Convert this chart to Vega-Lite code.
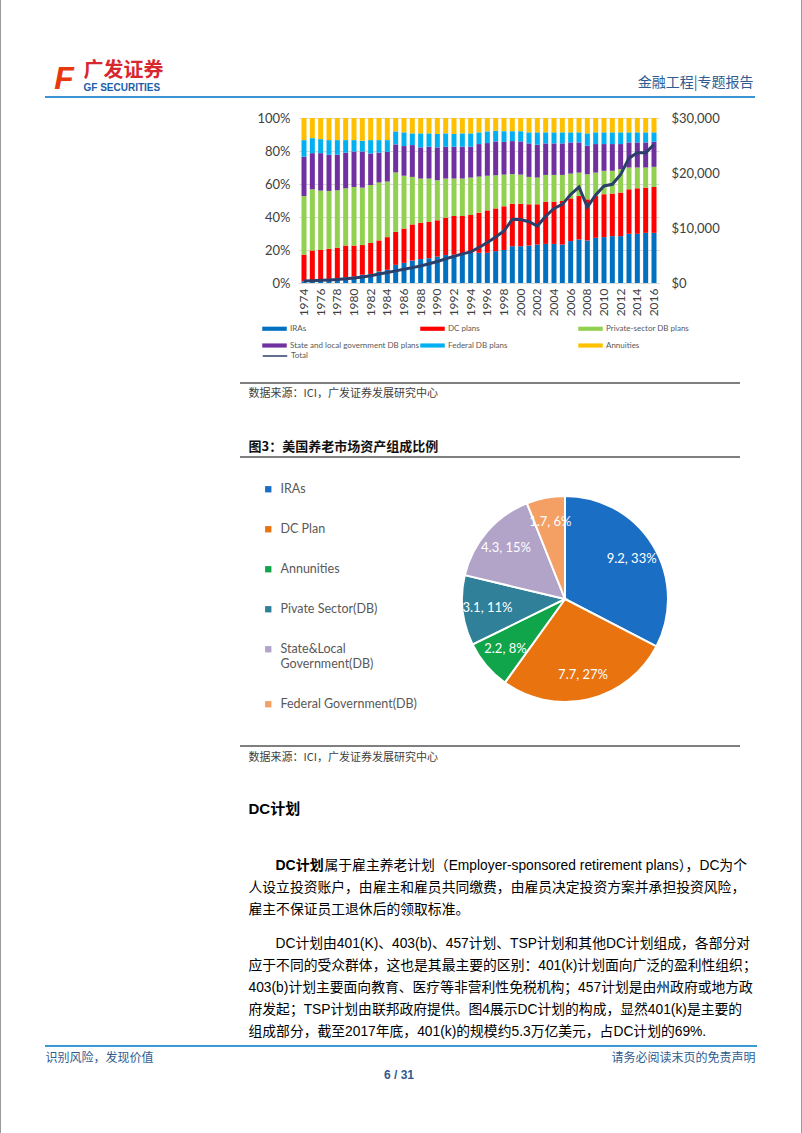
{
  "$schema": "https://vega.github.io/schema/vega-lite/v6.json",
  "padding": 0,
  "background": "white",
  "spacing": 0,
  "config": {"view": {"stroke": null}, "concat": {"spacing": 0}},
  "resolve": {"scale": {"color": "independent", "stroke": "independent"}, "legend": {"color": "independent", "stroke": "independent"}},
  "hconcat": [
    {"width": 1, "height": 1133, "data": {"values": []}, "mark": "point", "view": {"fill": "#9a9a9a"}},
    {"vconcat": [
      {"width": 800, "height": 60, "data": {"values": []}, "mark": "point"},
      {"hconcat": [
        {"width": 44, "height": 34, "data": {"values": []}, "mark": "point"},
        {"width": 38, "height": 34, "data": {"values": [{"t": "F"}]},
         "mark": {"type": "text", "align": "center", "baseline": "middle", "font": "Liberation Sans", "fontSize": 32, "fontWeight": "bold", "fontStyle": "italic", "color": "#e8380d"},
         "encoding": {"text": {"field": "t"}}},
        {"width": 1, "height": 34, "layer": [
          {"data": {"values": [{"line": 1, "t": "广发证券"}]},
           "mark": {"type": "text", "align": "left", "baseline": "middle", "font": "Noto Sans CJK SC", "fontSize": 20, "fontWeight": "bold", "color": "#d7282f"},
           "encoding": {"y": {"field": "line", "type": "ordinal", "axis": null, "scale": {"domain": [1, 2], "padding": 0.5}}, "text": {"field": "t"}}},
          {"data": {"values": [{"line": 2, "t": "GF SECURITIES"}]},
           "mark": {"type": "text", "align": "left", "baseline": "middle", "font": "Liberation Sans", "fontSize": 10, "fontWeight": "bold", "color": "#1d5fab"},
           "encoding": {"y": {"field": "line", "type": "ordinal", "axis": null, "scale": {"domain": [1, 2], "padding": 0.5}}, "text": {"field": "t"}}}
        ]},
        {"width": 669, "height": 34, "data": {"values": []}, "mark": "point"},
        {"width": 1, "height": 34, "data": {"values": [{"t": "金融工程|专题报告"}]},
         "mark": {"type": "text", "align": "right", "baseline": "middle", "dy": 4, "font": "Noto Sans CJK SC", "fontSize": 14, "color": "#2f5b8f"},
         "encoding": {"text": {"field": "t"}}}
      ], "bounds": "flush", "spacing": 0},
      {"hconcat": [
        {"width": 44, "height": 16, "data": {"values": []}, "mark": "point"},
        {"width": 710, "height": 2, "data": {"values": []}, "mark": "point", "view": {"fill": "#3a93d3"}}
      ], "bounds": "flush", "spacing": 0},
      {"hconcat": [
        {"width": 298, "height": 264, "data": {"values": []}, "mark": "point"},
        {"width": 360, "height": 165,
         "data": {"values": [
          {"year": 1974, "IRAs": 1, "DC plans": 16.2, "Private-sector DB plans": 35.5, "State and local government DB plans": 23.8, "Federal DB plans": 10.1, "Annuities": 13.4, "total": 370},
          {"year": 1975, "IRAs": 1.5, "DC plans": 18.2, "Private-sector DB plans": 37.1, "State and local government DB plans": 21.9, "Federal DB plans": 9.1, "Annuities": 12.2, "total": 420},
          {"year": 1976, "IRAs": 2, "DC plans": 18, "Private-sector DB plans": 36, "State and local government DB plans": 22.7, "Federal DB plans": 8.5, "Annuities": 12.8, "total": 480},
          {"year": 1977, "IRAs": 2.5, "DC plans": 18.2, "Private-sector DB plans": 35.1, "State and local government DB plans": 21.9, "Federal DB plans": 8.9, "Annuities": 13.4, "total": 540},
          {"year": 1978, "IRAs": 3, "DC plans": 18.3, "Private-sector DB plans": 34.9, "State and local government DB plans": 21.5, "Federal DB plans": 8.9, "Annuities": 13.4, "total": 620},
          {"year": 1979, "IRAs": 3.5, "DC plans": 19.2, "Private-sector DB plans": 34.7, "State and local government DB plans": 21.6, "Federal DB plans": 7.6, "Annuities": 13.4, "total": 760},
          {"year": 1980, "IRAs": 4, "DC plans": 18.7, "Private-sector DB plans": 35.5, "State and local government DB plans": 21.5, "Federal DB plans": 6.9, "Annuities": 13.4, "total": 930},
          {"year": 1981, "IRAs": 5, "DC plans": 18, "Private-sector DB plans": 34.8, "State and local government DB plans": 21.9, "Federal DB plans": 6.5, "Annuities": 13.8, "total": 1080},
          {"year": 1982, "IRAs": 5.5, "DC plans": 18.8, "Private-sector DB plans": 35.1, "State and local government DB plans": 19.1, "Federal DB plans": 8.1, "Annuities": 13.4, "total": 1330},
          {"year": 1983, "IRAs": 7, "DC plans": 18.8, "Private-sector DB plans": 35.1, "State and local government DB plans": 18.1, "Federal DB plans": 7.6, "Annuities": 13.4, "total": 1620},
          {"year": 1984, "IRAs": 8, "DC plans": 19.8, "Private-sector DB plans": 33.7, "State and local government DB plans": 18, "Federal DB plans": 7.1, "Annuities": 13.4, "total": 1900},
          {"year": 1985, "IRAs": 11, "DC plans": 20, "Private-sector DB plans": 36, "State and local government DB plans": 17, "Federal DB plans": 7.9, "Annuities": 8.1, "total": 2200},
          {"year": 1986, "IRAs": 12.2, "DC plans": 20.8, "Private-sector DB plans": 32, "State and local government DB plans": 18, "Federal DB plans": 8.3, "Annuities": 8.7, "total": 2500},
          {"year": 1987, "IRAs": 13.6, "DC plans": 21.9, "Private-sector DB plans": 28.8, "State and local government DB plans": 19.3, "Federal DB plans": 7.1, "Annuities": 9.3, "total": 2800},
          {"year": 1988, "IRAs": 14.5, "DC plans": 22, "Private-sector DB plans": 26.8, "State and local government DB plans": 18.9, "Federal DB plans": 8.5, "Annuities": 9.3, "total": 3100},
          {"year": 1989, "IRAs": 15, "DC plans": 22, "Private-sector DB plans": 26.3, "State and local government DB plans": 19.3, "Federal DB plans": 8.1, "Annuities": 9.3, "total": 3500},
          {"year": 1990, "IRAs": 16, "DC plans": 22, "Private-sector DB plans": 24.3, "State and local government DB plans": 19.9, "Federal DB plans": 8.1, "Annuities": 9.7, "total": 3900},
          {"year": 1991, "IRAs": 17, "DC plans": 22.6, "Private-sector DB plans": 23.7, "State and local government DB plans": 19.3, "Federal DB plans": 8.1, "Annuities": 9.3, "total": 4400},
          {"year": 1992, "IRAs": 17.2, "DC plans": 23.4, "Private-sector DB plans": 22.7, "State and local government DB plans": 19.3, "Federal DB plans": 7.7, "Annuities": 9.7, "total": 4850},
          {"year": 1993, "IRAs": 17.6, "DC plans": 23, "Private-sector DB plans": 22.7, "State and local government DB plans": 19.3, "Federal DB plans": 8.1, "Annuities": 9.3, "total": 5300},
          {"year": 1994, "IRAs": 18.3, "DC plans": 22.9, "Private-sector DB plans": 22.7, "State and local government DB plans": 18.7, "Federal DB plans": 8.1, "Annuities": 9.3, "total": 5650},
          {"year": 1995, "IRAs": 18.3, "DC plans": 24.3, "Private-sector DB plans": 21.9, "State and local government DB plans": 19.7, "Federal DB plans": 7.1, "Annuities": 8.7, "total": 6450},
          {"year": 1996, "IRAs": 18.3, "DC plans": 25.7, "Private-sector DB plans": 21, "State and local government DB plans": 19.8, "Federal DB plans": 7.1, "Annuities": 8.1, "total": 7350},
          {"year": 1997, "IRAs": 19.3, "DC plans": 25.9, "Private-sector DB plans": 20.1, "State and local government DB plans": 20.5, "Federal DB plans": 6.5, "Annuities": 7.7, "total": 8350},
          {"year": 1998, "IRAs": 20, "DC plans": 26.5, "Private-sector DB plans": 19.2, "State and local government DB plans": 19.8, "Federal DB plans": 6.5, "Annuities": 8, "total": 9450},
          {"year": 1999, "IRAs": 22.3, "DC plans": 25.7, "Private-sector DB plans": 18, "State and local government DB plans": 20, "Federal DB plans": 6, "Annuities": 8, "total": 11600},
          {"year": 2000, "IRAs": 22.3, "DC plans": 25.7, "Private-sector DB plans": 17.7, "State and local government DB plans": 20.1, "Federal DB plans": 6.2, "Annuities": 8, "total": 11550},
          {"year": 2001, "IRAs": 22.7, "DC plans": 25, "Private-sector DB plans": 16.6, "State and local government DB plans": 20.3, "Federal DB plans": 6.7, "Annuities": 8.7, "total": 11150},
          {"year": 2002, "IRAs": 23.3, "DC plans": 24.4, "Private-sector DB plans": 16.2, "State and local government DB plans": 19.9, "Federal DB plans": 7.5, "Annuities": 8.7, "total": 10350},
          {"year": 2003, "IRAs": 23.7, "DC plans": 25.6, "Private-sector DB plans": 16.2, "State and local government DB plans": 19.1, "Federal DB plans": 6.7, "Annuities": 8.7, "total": 12150},
          {"year": 2004, "IRAs": 23.7, "DC plans": 25.6, "Private-sector DB plans": 16.2, "State and local government DB plans": 19.1, "Federal DB plans": 6.7, "Annuities": 8.7, "total": 13550},
          {"year": 2005, "IRAs": 23.3, "DC plans": 26.4, "Private-sector DB plans": 15.8, "State and local government DB plans": 19.1, "Federal DB plans": 6.7, "Annuities": 8.7, "total": 14300},
          {"year": 2006, "IRAs": 25.4, "DC plans": 25.9, "Private-sector DB plans": 15, "State and local government DB plans": 18.9, "Federal DB plans": 6.1, "Annuities": 8.7, "total": 16100},
          {"year": 2007, "IRAs": 26.4, "DC plans": 26.3, "Private-sector DB plans": 14.2, "State and local government DB plans": 18.3, "Federal DB plans": 6.1, "Annuities": 8.7, "total": 17450},
          {"year": 2008, "IRAs": 25.8, "DC plans": 24.9, "Private-sector DB plans": 15.2, "State and local government DB plans": 17.3, "Federal DB plans": 7.5, "Annuities": 9.3, "total": 13800},
          {"year": 2009, "IRAs": 27.4, "DC plans": 25.3, "Private-sector DB plans": 14.2, "State and local government DB plans": 17.3, "Federal DB plans": 7.1, "Annuities": 8.7, "total": 16000},
          {"year": 2010, "IRAs": 27.8, "DC plans": 26, "Private-sector DB plans": 14.2, "State and local government DB plans": 16.2, "Federal DB plans": 7.1, "Annuities": 8.7, "total": 17650},
          {"year": 2011, "IRAs": 28.4, "DC plans": 25.8, "Private-sector DB plans": 13.8, "State and local government DB plans": 16.2, "Federal DB plans": 7.1, "Annuities": 8.7, "total": 17950},
          {"year": 2012, "IRAs": 28.4, "DC plans": 26.4, "Private-sector DB plans": 14.2, "State and local government DB plans": 15.2, "Federal DB plans": 7.1, "Annuities": 8.7, "total": 19750},
          {"year": 2013, "IRAs": 29.8, "DC plans": 27, "Private-sector DB plans": 13.2, "State and local government DB plans": 15.2, "Federal DB plans": 6.1, "Annuities": 8.7, "total": 22700},
          {"year": 2014, "IRAs": 29.8, "DC plans": 27.6, "Private-sector DB plans": 12.6, "State and local government DB plans": 15.2, "Federal DB plans": 6.1, "Annuities": 8.7, "total": 23700},
          {"year": 2015, "IRAs": 30.4, "DC plans": 27.4, "Private-sector DB plans": 12.2, "State and local government DB plans": 15.2, "Federal DB plans": 6.1, "Annuities": 8.7, "total": 23700},
          {"year": 2016, "IRAs": 30.4, "DC plans": 27.8, "Private-sector DB plans": 12.2, "State and local government DB plans": 15.2, "Federal DB plans": 5.7, "Annuities": 8.7, "total": 25150}
         ]},
         "layer": [
          {"transform": [
            {"fold": ["IRAs", "DC plans", "Private-sector DB plans", "State and local government DB plans", "Federal DB plans", "Annuities"], "as": ["series", "share"]},
            {"window": [{"op": "row_number", "as": "rank"}], "groupby": ["year"]}
           ],
           "mark": {"type": "bar"},
           "encoding": {
            "x": {"field": "year", "type": "ordinal", "scale": {"paddingInner": 0.4, "paddingOuter": 0.3},
                  "axis": {"title": null, "values": [1974, 1976, 1978, 1980, 1982, 1984, 1986, 1988, 1990, 1992, 1994, 1996, 1998, 2000, 2002, 2004, 2006, 2008, 2010, 2012, 2014, 2016],
                           "labelAngle": 270, "labelFont": "Lato", "labelFontSize": 12, "labelColor": "#404040", "ticks": false, "domain": true, "domainColor": "#d9d9d9", "labelPadding": 5}},
            "y": {"field": "share", "type": "quantitative", "stack": "normalize", "scale": {"domain": [0, 1]},
                  "axis": {"title": null, "values": [0, 0.2, 0.4, 0.6, 0.8, 1], "format": ".0%", "labelFont": "Lato", "labelFontSize": 13, "labelColor": "#404040", "domain": false, "ticks": false, "grid": true, "gridColor": "#d9d9d9", "labelPadding": 9}},
            "order": {"field": "rank", "type": "quantitative", "sort": "ascending"},
            "color": {"field": "series", "type": "nominal",
                      "scale": {"domain": ["IRAs", "DC plans", "Private-sector DB plans", "State and local government DB plans", "Federal DB plans", "Annuities"],
                                "range": ["#0070c0", "#ff0000", "#92d050", "#7030a0", "#00b0f0", "#ffc000"]},
                      "legend": {"orient": "none", "legendX": -37, "legendY": 198, "direction": "horizontal", "columns": 3, "gridAlign": "all", "columnPadding": 0, "rowPadding": -7,
                                 "title": null, "symbolType": "M-1,-0.17H1V0.17H-1Z", "symbolSize": 600, "symbolStrokeWidth": 0, "labelFont": "Lato", "labelFontSize": 8, "labelColor": "#595959", "labelOffset": 3, "labelLimit": 300}}
           }},
          {"mark": {"type": "line", "strokeWidth": 3},
           "encoding": {
            "x": {"field": "year", "type": "ordinal"},
            "y": {"field": "total", "type": "quantitative", "scale": {"domain": [0, 30000]},
                  "axis": {"orient": "right", "title": null, "values": [0, 10000, 20000, 30000], "format": "$,.0f", "labelFont": "Lato", "labelFontSize": 13, "labelColor": "#404040", "domain": false, "ticks": false, "grid": false, "labelPadding": 12}},
            "stroke": {"datum": "Total", "type": "nominal", "scale": {"domain": ["Total"], "range": ["#2b3f6b"]},
                       "legend": {"orient": "none", "legendX": -37, "legendY": 225, "title": null, "symbolType": "stroke", "symbolStrokeWidth": 1.5, "symbolSize": 600, "labelFont": "Lato", "labelFontSize": 8, "labelColor": "#595959", "labelOffset": 3}}
           }}
         ],
         "resolve": {"scale": {"y": "independent"}}}
      ], "bounds": "flush", "spacing": 0,
       "resolve": {"scale": {"color": "independent", "stroke": "independent"}, "legend": {"color": "independent", "stroke": "independent"}}},
      {"hconcat": [
        {"width": 239, "height": 2, "data": {"values": []}, "mark": "point"},
        {"width": 500, "height": 2, "data": {"values": []}, "mark": "point", "view": {"fill": "#7f7f7f"}}
      ], "bounds": "flush", "spacing": 0},
      {"hconcat": [
        {"width": 247, "height": 53, "data": {"values": []}, "mark": "point"},
        {"width": 1, "height": 20, "data": {"values": [{"t": "数据来源：ICI，广发证券发展研究中心"}]},
         "mark": {"type": "text", "align": "left", "baseline": "middle", "font": "Noto Sans CJK SC", "fontSize": 11, "color": "#404040"},
         "encoding": {"text": {"field": "t"}}}
      ], "bounds": "flush", "spacing": 0},
      {"hconcat": [
        {"width": 247, "height": 19, "data": {"values": []}, "mark": "point"},
        {"width": 1, "height": 19, "data": {"values": [{"t": "图3：美国养老市场资产组成比例"}]},
         "mark": {"type": "text", "align": "left", "baseline": "middle", "font": "Noto Sans CJK SC", "fontSize": 13, "fontWeight": "bold", "color": "#111111"},
         "encoding": {"text": {"field": "t"}}}
      ], "bounds": "flush", "spacing": 0},
      {"hconcat": [
        {"width": 239, "height": 27, "data": {"values": []}, "mark": "point"},
        {"width": 500, "height": 2, "data": {"values": []}, "mark": "point", "view": {"fill": "#7f7f7f"}}
      ], "bounds": "flush", "spacing": 0},
      {"hconcat": [
        {"width": 461, "height": 249, "data": {"values": []}, "mark": "point"},
        {"width": 206, "height": 206,
         "data": {"values": [
          {"name": "IRAs", "value": 9.2, "label": "9.2, 33%"},
          {"name": "DC Plan", "value": 7.7, "label": "7.7, 27%"},
          {"name": "Annunities", "value": 2.2, "label": "2.2, 8%"},
          {"name": "Pivate Sector(DB)", "value": 3.1, "label": "3.1, 11%"},
          {"name": "State&Local Government(DB)", "value": 4.3, "label": "4.3, 15%"},
          {"name": "Federal Government(DB)", "value": 1.7, "label": "1.7, 6%"}
         ]},
         "transform": [{"window": [{"op": "row_number", "as": "rank"}]}],
         "layer": [
          {"mark": {"type": "arc", "outerRadius": 103, "stroke": "white", "strokeWidth": 2},
           "encoding": {
            "theta": {"field": "value", "type": "quantitative", "stack": true},
            "order": {"field": "rank", "type": "quantitative", "sort": "ascending"},
            "color": {"field": "name", "type": "nominal",
                      "scale": {"domain": ["IRAs", "DC Plan", "Annunities", "Pivate Sector(DB)", "State&Local Government(DB)", "Federal Government(DB)"],
                                "range": ["#1a6ec4", "#e8730f", "#10a54a", "#31809a", "#b2a3c8", "#f4a064"]},
                      "legend": {"orient": "none", "legendX": -200, "legendY": -13, "title": null, "symbolType": "square", "symbolSize": 40, "symbolStrokeWidth": 0,
                                 "labelFont": "Lato", "labelFontSize": 12.5, "labelColor": "#595959", "labelOffset": 6, "rowPadding": 27, "labelLimit": 300,
                                 "labelExpr": "datum.label == 'State&Local Government(DB)' ? ['State&Local', 'Government(DB)'] : datum.label"}}
           }},
          {"mark": {"type": "text", "radius": 78, "font": "Lato", "fontSize": 13, "color": "white"},
           "encoding": {
            "theta": {"field": "value", "type": "quantitative", "stack": true},
            "order": {"field": "rank", "type": "quantitative", "sort": "ascending"},
            "text": {"field": "label"}
           }}
         ]}
      ], "bounds": "flush", "spacing": 0,
       "resolve": {"scale": {"color": "independent"}, "legend": {"color": "independent"}}},
      {"hconcat": [
        {"width": 239, "height": 2, "data": {"values": []}, "mark": "point"},
        {"width": 500, "height": 2, "data": {"values": []}, "mark": "point", "view": {"fill": "#7f7f7f"}}
      ], "bounds": "flush", "spacing": 0},
      {"hconcat": [
        {"width": 247, "height": 52, "data": {"values": []}, "mark": "point"},
        {"width": 1, "height": 22, "data": {"values": [{"t": "数据来源：ICI，广发证券发展研究中心"}]},
         "mark": {"type": "text", "align": "left", "baseline": "middle", "font": "Noto Sans CJK SC", "fontSize": 11, "color": "#404040"},
         "encoding": {"text": {"field": "t"}}}
      ], "bounds": "flush", "spacing": 0},
      {"hconcat": [
        {"width": 247, "height": 56, "data": {"values": []}, "mark": "point"},
        {"width": 1, "height": 20, "data": {"values": [{"t": "DC计划"}]},
         "mark": {"type": "text", "align": "left", "baseline": "middle", "font": "Liberation Sans, Noto Sans CJK SC", "fontSize": 15, "fontWeight": "bold", "color": "#000000"},
         "encoding": {"text": {"field": "t"}}}
      ], "bounds": "flush", "spacing": 0},
      {"hconcat": [
        {"width": 274, "height": 22, "data": {"values": []}, "mark": "point"},
        {"width": 1, "height": 22, "data": {"values": [{"t": "DC计划"}]},
         "mark": {"type": "text", "align": "left", "baseline": "middle", "font": "Liberation Sans, Noto Sans CJK SC", "fontSize": 14, "fontWeight": "bold", "color": "#000000"},
         "encoding": {"text": {"field": "t"}}},
        {"width": 48, "height": 22, "data": {"values": []}, "mark": "point"},
        {"width": 1, "height": 22, "data": {"values": [{"t": "属于雇主养老计划（Employer-sponsored retirement plans），DC为个"}]},
         "mark": {"type": "text", "align": "left", "baseline": "middle", "font": "Liberation Sans, Noto Sans CJK SC", "fontSize": 13.8, "color": "#000000"},
         "encoding": {"text": {"field": "t"}}}
      ], "bounds": "flush", "spacing": 0},
      {"hconcat": [
        {"width": 247, "height": 56, "data": {"values": []}, "mark": "point"},
        {"width": 1, "height": 44, "data": {"values": [
          {"line": 2, "t": "人设立投资账户，由雇主和雇员共同缴费，由雇员决定投资方案并承担投资风险，"},
          {"line": 3, "t": "雇主不保证员工退休后的领取标准。"}
         ]},
         "mark": {"type": "text", "align": "left", "baseline": "middle", "font": "Liberation Sans, Noto Sans CJK SC", "fontSize": 13.8, "color": "#000000"},
         "encoding": {"y": {"field": "line", "type": "ordinal", "axis": null, "scale": {"padding": 0.5}}, "text": {"field": "t"}}}
      ], "bounds": "flush", "spacing": 0},
      {"hconcat": [
        {"width": 274, "height": 22, "data": {"values": []}, "mark": "point"},
        {"width": 1, "height": 22, "data": {"values": [{"t": "DC计划由401(K)、403(b)、457计划、TSP计划和其他DC计划组成，各部分对"}]},
         "mark": {"type": "text", "align": "left", "baseline": "middle", "font": "Liberation Sans, Noto Sans CJK SC", "fontSize": 13.8, "color": "#000000"},
         "encoding": {"text": {"field": "t"}}}
      ], "bounds": "flush", "spacing": 0},
      {"hconcat": [
        {"width": 247, "height": 90, "data": {"values": []}, "mark": "point"},
        {"width": 1, "height": 88, "data": {"values": [
          {"line": 2, "t": "应于不同的受众群体，这也是其最主要的区别：401(k)计划面向广泛的盈利性组织；"},
          {"line": 3, "t": "403(b)计划主要面向教育、医疗等非营利性免税机构；457计划是由州政府或地方政"},
          {"line": 4, "t": "府发起；TSP计划由联邦政府提供。图4展示DC计划的构成，显然401(k)是主要的"},
          {"line": 5, "t": "组成部分，截至2017年底，401(k)的规模约5.3万亿美元，占DC计划的69%."}
         ]},
         "mark": {"type": "text", "align": "left", "baseline": "middle", "font": "Liberation Sans, Noto Sans CJK SC", "fontSize": 13.8, "color": "#000000"},
         "encoding": {"y": {"field": "line", "type": "ordinal", "axis": null, "scale": {"padding": 0.5}}, "text": {"field": "t"}}}
      ], "bounds": "flush", "spacing": 0},
      {"hconcat": [
        {"width": 44, "height": 2, "data": {"values": []}, "mark": "point"},
        {"width": 712, "height": 2, "data": {"values": []}, "mark": "point", "view": {"fill": "#3a9ad8"}}
      ], "bounds": "flush", "spacing": 0},
      {"hconcat": [
        {"width": 44, "height": 22, "data": {"values": []}, "mark": "point"},
        {"width": 1, "height": 22, "data": {"values": [{"t": "识别风险，发现价值"}]},
         "mark": {"type": "text", "align": "left", "baseline": "middle", "font": "Noto Sans CJK SC", "fontSize": 12, "color": "#2f5b8f"},
         "encoding": {"text": {"field": "t"}}},
        {"width": 709, "height": 22, "data": {"values": []}, "mark": "point"},
        {"width": 1, "height": 22, "data": {"values": [{"t": "请务必阅读末页的免责声明"}]},
         "mark": {"type": "text", "align": "right", "baseline": "middle", "font": "Noto Sans CJK SC", "fontSize": 12, "color": "#2f5b8f"},
         "encoding": {"text": {"field": "t"}}}
      ], "bounds": "flush", "spacing": 0},
      {"width": 796, "height": 12, "data": {"values": [{"t": "6 / 31"}]},
       "mark": {"type": "text", "align": "center", "baseline": "middle", "font": "Liberation Sans", "fontSize": 12, "fontWeight": "bold", "color": "#2f5b8f"},
       "encoding": {"text": {"field": "t"}}},
      {"width": 800, "height": 52, "data": {"values": []}, "mark": "point"},
      {"width": 800, "height": 1, "data": {"values": []}, "mark": "point", "view": {"fill": "#9a9a9a"}}
    ], "spacing": 0},
    {"width": 1, "height": 1133, "data": {"values": []}, "mark": "point", "view": {"fill": "#9a9a9a"}}
  ]
}
